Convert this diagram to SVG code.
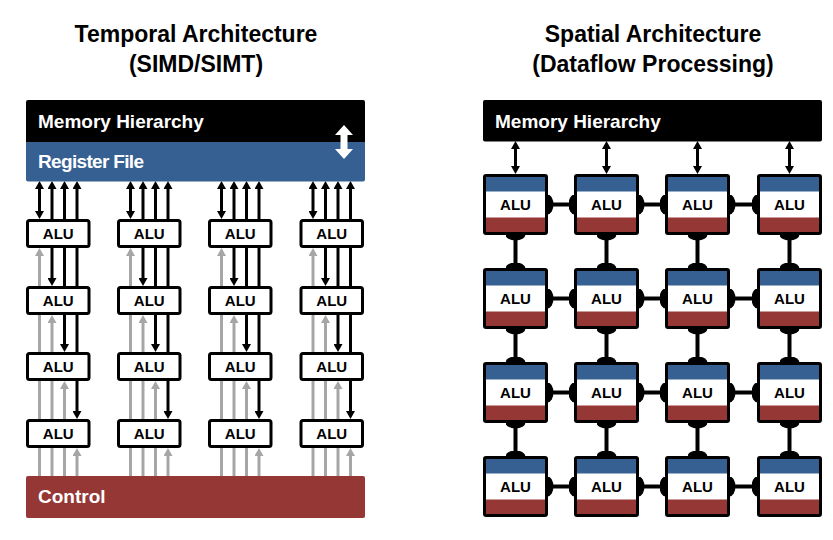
<svg xmlns="http://www.w3.org/2000/svg" width="833" height="540" viewBox="0 0 833 540">
<style>
.t{font-family:"Liberation Sans",Arial,sans-serif;font-weight:bold;font-size:23px;fill:#000;text-anchor:middle}
.bar{font-family:"Liberation Sans",Arial,sans-serif;font-weight:bold;font-size:19px;fill:#fff}
.alu{font-family:"Liberation Sans",Arial,sans-serif;font-weight:bold;font-size:15px;fill:#000;text-anchor:middle}
.k{stroke:#000;stroke-width:3;fill:none}
.g{stroke:#a6a6a6;stroke-width:3;fill:none}
.c{stroke:#000;stroke-width:4;fill:none}
.lb{fill:#fff;stroke:#000;stroke-width:3}
.wf{fill:#fff}
.bl{fill:#376092}
.rd{fill:#953735}
.ol{fill:none;stroke:#000;stroke-width:3}
</style>
<defs>
<marker id="mk" viewBox="0 0 8 9" refX="0.5" refY="4.5" markerWidth="8" markerHeight="9" markerUnits="userSpaceOnUse" orient="auto-start-reverse"><path d="M0,0 L8,4.5 L0,9 z" fill="#000"/></marker>
<marker id="mg" viewBox="0 0 8 9" refX="0.5" refY="4.5" markerWidth="8" markerHeight="9" markerUnits="userSpaceOnUse" orient="auto-start-reverse"><path d="M0,0 L8,4.5 L0,9 z" fill="#a6a6a6"/></marker>
<marker id="dot" viewBox="-6 -10 12 20" refX="0" refY="0" markerWidth="12" markerHeight="20" markerUnits="userSpaceOnUse" orient="auto"><ellipse cx="0" cy="0" rx="6" ry="10" fill="#000"/></marker>
</defs>

<g id="titles">
<text class="t" x="196" y="41.5">Temporal Architecture</text>
<text class="t" x="196" y="71.5">(SIMD/SIMT)</text>
<text class="t" x="653" y="41.5">Spatial Architecture</text>
<text class="t" x="653" y="71.5">(Dataflow Processing)</text>
</g>

<g id="connectors">
<!-- left column 1 -->
<line class="k" x1="39.5" y1="188.5" x2="39.5" y2="211.5" marker-start="url(#mk)" marker-end="url(#mk)"/>
<line class="k" x1="52" y1="219" x2="52" y2="188.5" marker-end="url(#mk)"/>
<line class="k" x1="64.5" y1="219" x2="64.5" y2="188.5" marker-end="url(#mk)"/>
<line class="k" x1="77" y1="219" x2="77" y2="188.5" marker-end="url(#mk)"/>
<line class="g" x1="39.5" y1="286" x2="39.5" y2="255.5" marker-end="url(#mg)"/>
<line class="k" x1="52" y1="248" x2="52" y2="278.5" marker-end="url(#mk)"/>
<line class="k" x1="64.5" y1="248" x2="64.5" y2="286"/>
<line class="k" x1="77" y1="248" x2="77" y2="286"/>
<line class="g" x1="39.5" y1="315" x2="39.5" y2="352"/>
<line class="g" x1="52" y1="352" x2="52" y2="322.5" marker-end="url(#mg)"/>
<line class="k" x1="64.5" y1="315" x2="64.5" y2="344.5" marker-end="url(#mk)"/>
<line class="k" x1="77" y1="315" x2="77" y2="352"/>
<line class="g" x1="39.5" y1="381" x2="39.5" y2="419"/>
<line class="g" x1="52" y1="381" x2="52" y2="419"/>
<line class="g" x1="64.5" y1="419" x2="64.5" y2="388.5" marker-end="url(#mg)"/>
<line class="k" x1="77" y1="381" x2="77" y2="411.5" marker-end="url(#mk)"/>
<line class="g" x1="39.5" y1="448" x2="39.5" y2="476"/>
<line class="g" x1="52" y1="448" x2="52" y2="476"/>
<line class="g" x1="64.5" y1="448" x2="64.5" y2="476"/>
<line class="g" x1="77" y1="476" x2="77" y2="455.5" marker-end="url(#mg)"/>
<!-- left column 2 -->
<line class="k" x1="130.5" y1="188.5" x2="130.5" y2="211.5" marker-start="url(#mk)" marker-end="url(#mk)"/>
<line class="k" x1="143" y1="219" x2="143" y2="188.5" marker-end="url(#mk)"/>
<line class="k" x1="155.5" y1="219" x2="155.5" y2="188.5" marker-end="url(#mk)"/>
<line class="k" x1="168" y1="219" x2="168" y2="188.5" marker-end="url(#mk)"/>
<line class="g" x1="130.5" y1="286" x2="130.5" y2="255.5" marker-end="url(#mg)"/>
<line class="k" x1="143" y1="248" x2="143" y2="278.5" marker-end="url(#mk)"/>
<line class="k" x1="155.5" y1="248" x2="155.5" y2="286"/>
<line class="k" x1="168" y1="248" x2="168" y2="286"/>
<line class="g" x1="130.5" y1="315" x2="130.5" y2="352"/>
<line class="g" x1="143" y1="352" x2="143" y2="322.5" marker-end="url(#mg)"/>
<line class="k" x1="155.5" y1="315" x2="155.5" y2="344.5" marker-end="url(#mk)"/>
<line class="k" x1="168" y1="315" x2="168" y2="352"/>
<line class="g" x1="130.5" y1="381" x2="130.5" y2="419"/>
<line class="g" x1="143" y1="381" x2="143" y2="419"/>
<line class="g" x1="155.5" y1="419" x2="155.5" y2="388.5" marker-end="url(#mg)"/>
<line class="k" x1="168" y1="381" x2="168" y2="411.5" marker-end="url(#mk)"/>
<line class="g" x1="130.5" y1="448" x2="130.5" y2="476"/>
<line class="g" x1="143" y1="448" x2="143" y2="476"/>
<line class="g" x1="155.5" y1="448" x2="155.5" y2="476"/>
<line class="g" x1="168" y1="476" x2="168" y2="455.5" marker-end="url(#mg)"/>
<!-- left column 3 -->
<line class="k" x1="221.5" y1="188.5" x2="221.5" y2="211.5" marker-start="url(#mk)" marker-end="url(#mk)"/>
<line class="k" x1="234" y1="219" x2="234" y2="188.5" marker-end="url(#mk)"/>
<line class="k" x1="246.5" y1="219" x2="246.5" y2="188.5" marker-end="url(#mk)"/>
<line class="k" x1="259" y1="219" x2="259" y2="188.5" marker-end="url(#mk)"/>
<line class="g" x1="221.5" y1="286" x2="221.5" y2="255.5" marker-end="url(#mg)"/>
<line class="k" x1="234" y1="248" x2="234" y2="278.5" marker-end="url(#mk)"/>
<line class="k" x1="246.5" y1="248" x2="246.5" y2="286"/>
<line class="k" x1="259" y1="248" x2="259" y2="286"/>
<line class="g" x1="221.5" y1="315" x2="221.5" y2="352"/>
<line class="g" x1="234" y1="352" x2="234" y2="322.5" marker-end="url(#mg)"/>
<line class="k" x1="246.5" y1="315" x2="246.5" y2="344.5" marker-end="url(#mk)"/>
<line class="k" x1="259" y1="315" x2="259" y2="352"/>
<line class="g" x1="221.5" y1="381" x2="221.5" y2="419"/>
<line class="g" x1="234" y1="381" x2="234" y2="419"/>
<line class="g" x1="246.5" y1="419" x2="246.5" y2="388.5" marker-end="url(#mg)"/>
<line class="k" x1="259" y1="381" x2="259" y2="411.5" marker-end="url(#mk)"/>
<line class="g" x1="221.5" y1="448" x2="221.5" y2="476"/>
<line class="g" x1="234" y1="448" x2="234" y2="476"/>
<line class="g" x1="246.5" y1="448" x2="246.5" y2="476"/>
<line class="g" x1="259" y1="476" x2="259" y2="455.5" marker-end="url(#mg)"/>
<!-- left column 4 -->
<line class="k" x1="313" y1="188.5" x2="313" y2="211.5" marker-start="url(#mk)" marker-end="url(#mk)"/>
<line class="k" x1="325.5" y1="219" x2="325.5" y2="188.5" marker-end="url(#mk)"/>
<line class="k" x1="338" y1="219" x2="338" y2="188.5" marker-end="url(#mk)"/>
<line class="k" x1="350.5" y1="219" x2="350.5" y2="188.5" marker-end="url(#mk)"/>
<line class="g" x1="313" y1="286" x2="313" y2="255.5" marker-end="url(#mg)"/>
<line class="k" x1="325.5" y1="248" x2="325.5" y2="278.5" marker-end="url(#mk)"/>
<line class="k" x1="338" y1="248" x2="338" y2="286"/>
<line class="k" x1="350.5" y1="248" x2="350.5" y2="286"/>
<line class="g" x1="313" y1="315" x2="313" y2="352"/>
<line class="g" x1="325.5" y1="352" x2="325.5" y2="322.5" marker-end="url(#mg)"/>
<line class="k" x1="338" y1="315" x2="338" y2="344.5" marker-end="url(#mk)"/>
<line class="k" x1="350.5" y1="315" x2="350.5" y2="352"/>
<line class="g" x1="313" y1="381" x2="313" y2="419"/>
<line class="g" x1="325.5" y1="381" x2="325.5" y2="419"/>
<line class="g" x1="338" y1="419" x2="338" y2="388.5" marker-end="url(#mg)"/>
<line class="k" x1="350.5" y1="381" x2="350.5" y2="411.5" marker-end="url(#mk)"/>
<line class="g" x1="313" y1="448" x2="313" y2="476"/>
<line class="g" x1="325.5" y1="448" x2="325.5" y2="476"/>
<line class="g" x1="338" y1="448" x2="338" y2="476"/>
<line class="g" x1="350.5" y1="476" x2="350.5" y2="455.5" marker-end="url(#mg)"/>

<!-- right: memory to ALUs -->
<line class="k" x1="515.5" y1="148.5" x2="515.5" y2="166.5" marker-start="url(#mk)" marker-end="url(#mk)"/>
<line class="k" x1="606.5" y1="148.5" x2="606.5" y2="166.5" marker-start="url(#mk)" marker-end="url(#mk)"/>
<line class="k" x1="697.5" y1="148.5" x2="697.5" y2="166.5" marker-start="url(#mk)" marker-end="url(#mk)"/>
<line class="k" x1="789.5" y1="148.5" x2="789.5" y2="166.5" marker-start="url(#mk)" marker-end="url(#mk)"/>
<!-- right: horizontal mesh -->
<line class="c" x1="547.5" y1="204.5" x2="574.5" y2="204.5" marker-start="url(#dot)" marker-end="url(#dot)"/>
<line class="c" x1="638.5" y1="204.5" x2="665.5" y2="204.5" marker-start="url(#dot)" marker-end="url(#dot)"/>
<line class="c" x1="729.5" y1="204.5" x2="757.5" y2="204.5" marker-start="url(#dot)" marker-end="url(#dot)"/>
<line class="c" x1="547.5" y1="298.5" x2="574.5" y2="298.5" marker-start="url(#dot)" marker-end="url(#dot)"/>
<line class="c" x1="638.5" y1="298.5" x2="665.5" y2="298.5" marker-start="url(#dot)" marker-end="url(#dot)"/>
<line class="c" x1="729.5" y1="298.5" x2="757.5" y2="298.5" marker-start="url(#dot)" marker-end="url(#dot)"/>
<line class="c" x1="547.5" y1="392.5" x2="574.5" y2="392.5" marker-start="url(#dot)" marker-end="url(#dot)"/>
<line class="c" x1="638.5" y1="392.5" x2="665.5" y2="392.5" marker-start="url(#dot)" marker-end="url(#dot)"/>
<line class="c" x1="729.5" y1="392.5" x2="757.5" y2="392.5" marker-start="url(#dot)" marker-end="url(#dot)"/>
<line class="c" x1="547.5" y1="486.5" x2="574.5" y2="486.5" marker-start="url(#dot)" marker-end="url(#dot)"/>
<line class="c" x1="638.5" y1="486.5" x2="665.5" y2="486.5" marker-start="url(#dot)" marker-end="url(#dot)"/>
<line class="c" x1="729.5" y1="486.5" x2="757.5" y2="486.5" marker-start="url(#dot)" marker-end="url(#dot)"/>
<!-- right: vertical mesh -->
<line class="c" x1="515.5" y1="234.5" x2="515.5" y2="268.5" marker-start="url(#dot)" marker-end="url(#dot)"/>
<line class="c" x1="515.5" y1="328.5" x2="515.5" y2="362.5" marker-start="url(#dot)" marker-end="url(#dot)"/>
<line class="c" x1="515.5" y1="422.5" x2="515.5" y2="456.5" marker-start="url(#dot)" marker-end="url(#dot)"/>
<line class="c" x1="606.5" y1="234.5" x2="606.5" y2="268.5" marker-start="url(#dot)" marker-end="url(#dot)"/>
<line class="c" x1="606.5" y1="328.5" x2="606.5" y2="362.5" marker-start="url(#dot)" marker-end="url(#dot)"/>
<line class="c" x1="606.5" y1="422.5" x2="606.5" y2="456.5" marker-start="url(#dot)" marker-end="url(#dot)"/>
<line class="c" x1="697.5" y1="234.5" x2="697.5" y2="268.5" marker-start="url(#dot)" marker-end="url(#dot)"/>
<line class="c" x1="697.5" y1="328.5" x2="697.5" y2="362.5" marker-start="url(#dot)" marker-end="url(#dot)"/>
<line class="c" x1="697.5" y1="422.5" x2="697.5" y2="456.5" marker-start="url(#dot)" marker-end="url(#dot)"/>
<line class="c" x1="789.5" y1="234.5" x2="789.5" y2="268.5" marker-start="url(#dot)" marker-end="url(#dot)"/>
<line class="c" x1="789.5" y1="328.5" x2="789.5" y2="362.5" marker-start="url(#dot)" marker-end="url(#dot)"/>
<line class="c" x1="789.5" y1="422.5" x2="789.5" y2="456.5" marker-start="url(#dot)" marker-end="url(#dot)"/>
</g>

<!-- left side nodes -->
<g id="l-memory">
<rect x="26" y="100" width="339" height="44" rx="2" fill="#000"/>
<text class="bar" x="38" y="128">Memory Hierarchy</text>
</g>
<g id="l-register-file">
<rect x="26" y="142" width="339" height="39.5" rx="2" fill="#376092"/>
<rect x="26" y="142" width="339" height="10" fill="#376092"/>
<text class="bar" x="38" y="168" textLength="106">Register File</text>
<polygon fill="#fff" points="344,125 353,135 347.5,135 347.5,149 353,149 344,159 335,149 340.5,149 340.5,135 335,135"/>
</g>
<g id="l-control">
<rect x="26" y="476" width="339" height="42" rx="2" fill="#953735"/>
<text class="bar" x="38" y="503">Control</text>
</g>

<g id="l-alu-1-1" transform="translate(26,219)"><rect class="lb" x="1.5" y="1.5" width="61.5" height="26" rx="2"/><text class="alu" x="32.25" y="20">ALU</text></g>
<g id="l-alu-1-2" transform="translate(117,219)"><rect class="lb" x="1.5" y="1.5" width="61.5" height="26" rx="2"/><text class="alu" x="32.25" y="20">ALU</text></g>
<g id="l-alu-1-3" transform="translate(208,219)"><rect class="lb" x="1.5" y="1.5" width="61.5" height="26" rx="2"/><text class="alu" x="32.25" y="20">ALU</text></g>
<g id="l-alu-1-4" transform="translate(299.5,219)"><rect class="lb" x="1.5" y="1.5" width="61.5" height="26" rx="2"/><text class="alu" x="32.25" y="20">ALU</text></g>
<g id="l-alu-2-1" transform="translate(26,286)"><rect class="lb" x="1.5" y="1.5" width="61.5" height="26" rx="2"/><text class="alu" x="32.25" y="20">ALU</text></g>
<g id="l-alu-2-2" transform="translate(117,286)"><rect class="lb" x="1.5" y="1.5" width="61.5" height="26" rx="2"/><text class="alu" x="32.25" y="20">ALU</text></g>
<g id="l-alu-2-3" transform="translate(208,286)"><rect class="lb" x="1.5" y="1.5" width="61.5" height="26" rx="2"/><text class="alu" x="32.25" y="20">ALU</text></g>
<g id="l-alu-2-4" transform="translate(299.5,286)"><rect class="lb" x="1.5" y="1.5" width="61.5" height="26" rx="2"/><text class="alu" x="32.25" y="20">ALU</text></g>
<g id="l-alu-3-1" transform="translate(26,352)"><rect class="lb" x="1.5" y="1.5" width="61.5" height="26" rx="2"/><text class="alu" x="32.25" y="20">ALU</text></g>
<g id="l-alu-3-2" transform="translate(117,352)"><rect class="lb" x="1.5" y="1.5" width="61.5" height="26" rx="2"/><text class="alu" x="32.25" y="20">ALU</text></g>
<g id="l-alu-3-3" transform="translate(208,352)"><rect class="lb" x="1.5" y="1.5" width="61.5" height="26" rx="2"/><text class="alu" x="32.25" y="20">ALU</text></g>
<g id="l-alu-3-4" transform="translate(299.5,352)"><rect class="lb" x="1.5" y="1.5" width="61.5" height="26" rx="2"/><text class="alu" x="32.25" y="20">ALU</text></g>
<g id="l-alu-4-1" transform="translate(26,419)"><rect class="lb" x="1.5" y="1.5" width="61.5" height="26" rx="2"/><text class="alu" x="32.25" y="20">ALU</text></g>
<g id="l-alu-4-2" transform="translate(117,419)"><rect class="lb" x="1.5" y="1.5" width="61.5" height="26" rx="2"/><text class="alu" x="32.25" y="20">ALU</text></g>
<g id="l-alu-4-3" transform="translate(208,419)"><rect class="lb" x="1.5" y="1.5" width="61.5" height="26" rx="2"/><text class="alu" x="32.25" y="20">ALU</text></g>
<g id="l-alu-4-4" transform="translate(299.5,419)"><rect class="lb" x="1.5" y="1.5" width="61.5" height="26" rx="2"/><text class="alu" x="32.25" y="20">ALU</text></g>

<!-- right side nodes -->
<g id="r-memory">
<rect x="483" y="100" width="339" height="41.5" rx="2" fill="#000"/>
<text class="bar" x="495" y="128">Memory Hierarchy</text>
</g>

<g id="r-alu-1-1" transform="translate(483,174)"><rect class="wf" x="1.5" y="1.5" width="62" height="58"/><rect class="bl" x="3" y="3" width="59" height="14.5"/><rect class="rd" x="3" y="43.5" width="59" height="14.5"/><rect class="ol" x="1.5" y="1.5" width="62" height="58" rx="1.5"/><text class="alu" x="32.5" y="36">ALU</text></g>
<g id="r-alu-1-2" transform="translate(574,174)"><rect class="wf" x="1.5" y="1.5" width="62" height="58"/><rect class="bl" x="3" y="3" width="59" height="14.5"/><rect class="rd" x="3" y="43.5" width="59" height="14.5"/><rect class="ol" x="1.5" y="1.5" width="62" height="58" rx="1.5"/><text class="alu" x="32.5" y="36">ALU</text></g>
<g id="r-alu-1-3" transform="translate(665,174)"><rect class="wf" x="1.5" y="1.5" width="62" height="58"/><rect class="bl" x="3" y="3" width="59" height="14.5"/><rect class="rd" x="3" y="43.5" width="59" height="14.5"/><rect class="ol" x="1.5" y="1.5" width="62" height="58" rx="1.5"/><text class="alu" x="32.5" y="36">ALU</text></g>
<g id="r-alu-1-4" transform="translate(757,174)"><rect class="wf" x="1.5" y="1.5" width="62" height="58"/><rect class="bl" x="3" y="3" width="59" height="14.5"/><rect class="rd" x="3" y="43.5" width="59" height="14.5"/><rect class="ol" x="1.5" y="1.5" width="62" height="58" rx="1.5"/><text class="alu" x="32.5" y="36">ALU</text></g>
<g id="r-alu-2-1" transform="translate(483,268)"><rect class="wf" x="1.5" y="1.5" width="62" height="58"/><rect class="bl" x="3" y="3" width="59" height="14.5"/><rect class="rd" x="3" y="43.5" width="59" height="14.5"/><rect class="ol" x="1.5" y="1.5" width="62" height="58" rx="1.5"/><text class="alu" x="32.5" y="36">ALU</text></g>
<g id="r-alu-2-2" transform="translate(574,268)"><rect class="wf" x="1.5" y="1.5" width="62" height="58"/><rect class="bl" x="3" y="3" width="59" height="14.5"/><rect class="rd" x="3" y="43.5" width="59" height="14.5"/><rect class="ol" x="1.5" y="1.5" width="62" height="58" rx="1.5"/><text class="alu" x="32.5" y="36">ALU</text></g>
<g id="r-alu-2-3" transform="translate(665,268)"><rect class="wf" x="1.5" y="1.5" width="62" height="58"/><rect class="bl" x="3" y="3" width="59" height="14.5"/><rect class="rd" x="3" y="43.5" width="59" height="14.5"/><rect class="ol" x="1.5" y="1.5" width="62" height="58" rx="1.5"/><text class="alu" x="32.5" y="36">ALU</text></g>
<g id="r-alu-2-4" transform="translate(757,268)"><rect class="wf" x="1.5" y="1.5" width="62" height="58"/><rect class="bl" x="3" y="3" width="59" height="14.5"/><rect class="rd" x="3" y="43.5" width="59" height="14.5"/><rect class="ol" x="1.5" y="1.5" width="62" height="58" rx="1.5"/><text class="alu" x="32.5" y="36">ALU</text></g>
<g id="r-alu-3-1" transform="translate(483,362)"><rect class="wf" x="1.5" y="1.5" width="62" height="58"/><rect class="bl" x="3" y="3" width="59" height="14.5"/><rect class="rd" x="3" y="43.5" width="59" height="14.5"/><rect class="ol" x="1.5" y="1.5" width="62" height="58" rx="1.5"/><text class="alu" x="32.5" y="36">ALU</text></g>
<g id="r-alu-3-2" transform="translate(574,362)"><rect class="wf" x="1.5" y="1.5" width="62" height="58"/><rect class="bl" x="3" y="3" width="59" height="14.5"/><rect class="rd" x="3" y="43.5" width="59" height="14.5"/><rect class="ol" x="1.5" y="1.5" width="62" height="58" rx="1.5"/><text class="alu" x="32.5" y="36">ALU</text></g>
<g id="r-alu-3-3" transform="translate(665,362)"><rect class="wf" x="1.5" y="1.5" width="62" height="58"/><rect class="bl" x="3" y="3" width="59" height="14.5"/><rect class="rd" x="3" y="43.5" width="59" height="14.5"/><rect class="ol" x="1.5" y="1.5" width="62" height="58" rx="1.5"/><text class="alu" x="32.5" y="36">ALU</text></g>
<g id="r-alu-3-4" transform="translate(757,362)"><rect class="wf" x="1.5" y="1.5" width="62" height="58"/><rect class="bl" x="3" y="3" width="59" height="14.5"/><rect class="rd" x="3" y="43.5" width="59" height="14.5"/><rect class="ol" x="1.5" y="1.5" width="62" height="58" rx="1.5"/><text class="alu" x="32.5" y="36">ALU</text></g>
<g id="r-alu-4-1" transform="translate(483,456)"><rect class="wf" x="1.5" y="1.5" width="62" height="58"/><rect class="bl" x="3" y="3" width="59" height="14.5"/><rect class="rd" x="3" y="43.5" width="59" height="14.5"/><rect class="ol" x="1.5" y="1.5" width="62" height="58" rx="1.5"/><text class="alu" x="32.5" y="36">ALU</text></g>
<g id="r-alu-4-2" transform="translate(574,456)"><rect class="wf" x="1.5" y="1.5" width="62" height="58"/><rect class="bl" x="3" y="3" width="59" height="14.5"/><rect class="rd" x="3" y="43.5" width="59" height="14.5"/><rect class="ol" x="1.5" y="1.5" width="62" height="58" rx="1.5"/><text class="alu" x="32.5" y="36">ALU</text></g>
<g id="r-alu-4-3" transform="translate(665,456)"><rect class="wf" x="1.5" y="1.5" width="62" height="58"/><rect class="bl" x="3" y="3" width="59" height="14.5"/><rect class="rd" x="3" y="43.5" width="59" height="14.5"/><rect class="ol" x="1.5" y="1.5" width="62" height="58" rx="1.5"/><text class="alu" x="32.5" y="36">ALU</text></g>
<g id="r-alu-4-4" transform="translate(757,456)"><rect class="wf" x="1.5" y="1.5" width="62" height="58"/><rect class="bl" x="3" y="3" width="59" height="14.5"/><rect class="rd" x="3" y="43.5" width="59" height="14.5"/><rect class="ol" x="1.5" y="1.5" width="62" height="58" rx="1.5"/><text class="alu" x="32.5" y="36">ALU</text></g>
</svg>
